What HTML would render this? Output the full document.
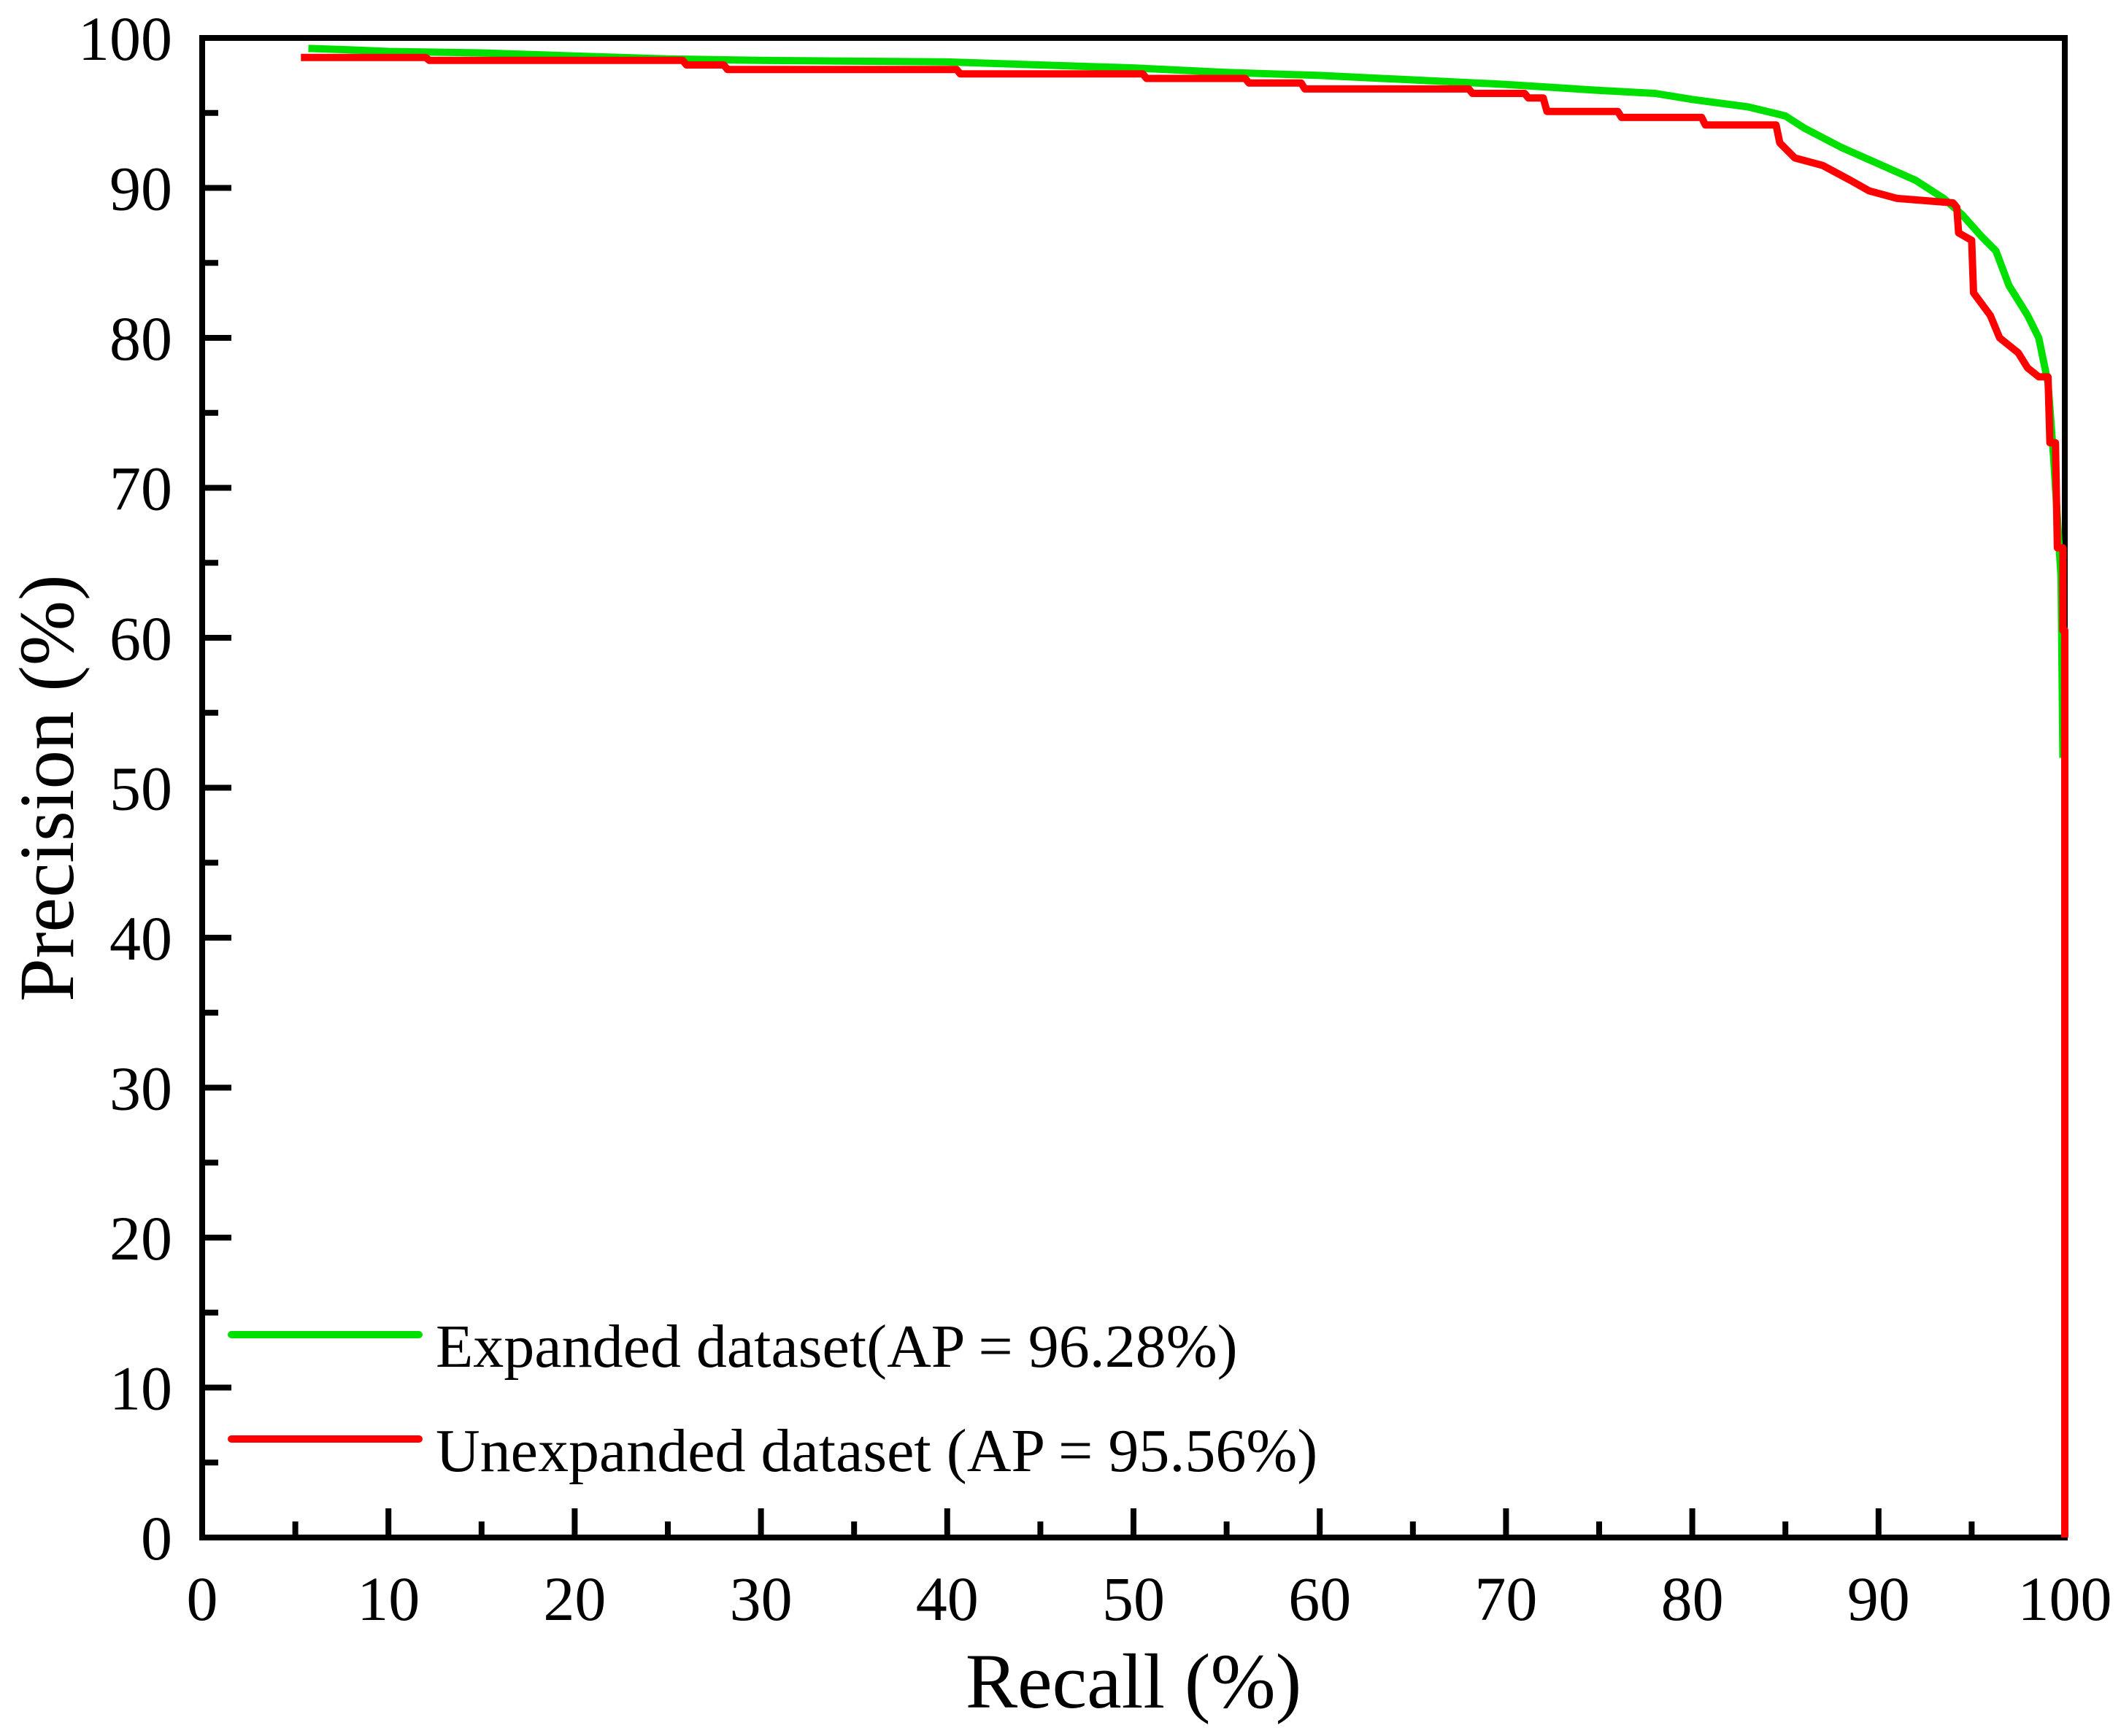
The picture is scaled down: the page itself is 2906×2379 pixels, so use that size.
<!DOCTYPE html>
<html><head><meta charset="utf-8"><style>
html,body{margin:0;padding:0;background:#fff;}
svg{display:block;font-family:"Liberation Serif",serif;}
</style></head><body>
<svg id="chart" width="2906" height="2379" viewBox="0 0 2906 2379" xmlns="http://www.w3.org/2000/svg">
<g id="axes"></g>
<g id="series"></g>
<g id="legend">
  <line x1="317" y1="1829" x2="574" y2="1829" stroke="#00e000" stroke-width="10" stroke-linecap="round"/>
  <text x="597" y="1873" font-size="84">Expanded dataset(AP = 96.28%)</text>
  <line x1="317" y1="1972" x2="574" y2="1972" stroke="#ff0000" stroke-width="10" stroke-linecap="round"/>
  <text x="597" y="2016" font-size="84">Unexpanded dataset (AP = 95.56%)</text>
</g>
<text x="1553" y="2340" font-size="107" text-anchor="middle">Recall (%)</text>
<text transform="translate(100,1080) rotate(-90)" font-size="107" text-anchor="middle">Precision (%)</text>
</svg>
<script>
const xTicks = [0,10,20,30,40,50,60,70,80,90,100];
const yTicks = [0,10,20,30,40,50,60,70,80,90,100];
const greenRecall = [5.7,8,10,15,20,25,30,40,50,55,60,65,70,75,78,80,83,85,86,88,90,92,93.5,94.5,95.5,96.3,97,98,98.6,99.1,99.4,99.6,99.8,99.9];
const greenPrecision = [99.3,99.2,99.1,99.0,98.8,98.6,98.5,98.4,98.0,97.7,97.5,97.2,96.9,96.5,96.3,95.9,95.4,94.8,94.0,92.7,91.6,90.5,89.3,88.2,86.8,85.8,83.5,81.5,80,77,72,68,64,52];
const redRecall = [5.3,12,12.2,25.8,26,28,28.2,40.5,40.7,50.5,50.7,56,56.2,59,59.2,68,68.2,71,71.2,72,72.2,76,76.2,80.5,80.7,84.5,84.7,85.5,87,88.5,89.5,91,94,94.2,94.3,95,95.1,96,96.5,97.5,98,98.6,99.1,99.2,99.5,99.6,99.9,99.9,100,100];
const redPrecision = [98.7,98.7,98.5,98.5,98.2,98.2,97.9,97.9,97.6,97.6,97.3,97.3,97.0,97.0,96.6,96.6,96.3,96.3,96.0,96.0,95.1,95.1,94.7,94.7,94.2,94.2,93,92,91.5,90.5,89.8,89.3,89,88.7,87,86.5,83,81.5,80,79,78,77.4,77.4,73,73,66,66,60.5,60.5,0];

const L=277,R=2829,T=52,B=2107;
const xs=v=>L+(R-L)*v/100;
const ys=v=>B-(B-T)*v/100;
const NS="http://www.w3.org/2000/svg";
const axes=document.getElementById('axes');
const series=document.getElementById('series');
function mk(tag,attrs,parent){const e=document.createElementNS(NS,tag);for(const k in attrs)e.setAttribute(k,attrs[k]);parent.appendChild(e);return e;}

const frame=mk('rect',{x:L,y:T,width:R-L,height:B-T,fill:'none',stroke:'#000','stroke-width':8},axes);



xTicks.forEach((v,i)=>{
  const t=mk('line',{x1:xs(v),x2:xs(v),y1:B,y2:B-40,stroke:'#000','stroke-width':8},axes);
  
  
  if(i<xTicks.length-1){
    const m=mk('line',{x1:xs(v+5),x2:xs(v+5),y1:B,y2:B-22,stroke:'#000','stroke-width':8},axes);
    
    
  }
  const lb=mk('text',{x:xs(v),y:2220,'font-size':86,'text-anchor':'middle'},axes);
  lb.textContent=v;
  
  
});
yTicks.forEach((v,i)=>{
  const t=mk('line',{x1:L,x2:L+40,y1:ys(v),y2:ys(v),stroke:'#000','stroke-width':8},axes);
  
  
  if(i<yTicks.length-1){
    const m=mk('line',{x1:L,x2:L+22,y1:ys(v+5),y2:ys(v+5),stroke:'#000','stroke-width':8},axes);
    
    
  }
  const lb=mk('text',{x:236,y:ys(v)+30,'font-size':86,'text-anchor':'end'},axes);
  lb.textContent=v;
  
  
});

function line(xa,ya,color,name){
  const pts=xa.map((x,i)=>xs(x).toFixed(1)+','+ys(ya[i]).toFixed(1)).join(' ');
  const p=mk('polyline',{points:pts,fill:'none',stroke:color,'stroke-width':10,'stroke-linejoin':'round','stroke-linecap':'butt'},series);
  
  
}
line(greenRecall,greenPrecision,'#00e000','expanded-pr-curve');
line(redRecall,redPrecision,'#ff0000','unexpanded-pr-curve');
</script>
</body></html>
